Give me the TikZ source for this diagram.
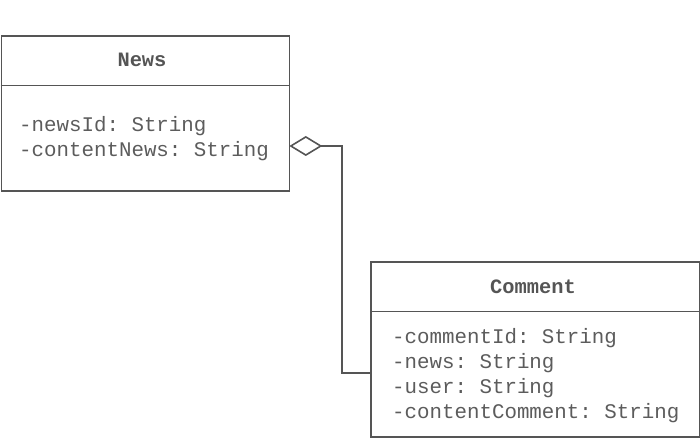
\documentclass[tikz,border=0pt]{standalone}
\usepackage{fontspec}
\setmonofont{Liberation Mono}
\usetikzlibrary{arrows.meta}
\definecolor{ink}{HTML}{555555}
\definecolor{textink}{HTML}{5c5c5c}
\tikzset{
  box/.style={draw=ink, line width=1.6pt, anchor=north west, inner sep=0pt},
  ttl/.style={font=\ttfamily\bfseries\fontsize{20.4}{25}\selectfont, text=ink, inner sep=0pt},
  attr/.style={font=\ttfamily\fontsize{20.8}{25}\selectfont, text=textink, anchor=west, inner sep=0pt, align=left},
  conn/.style={draw=ink, line width=1.6pt}
}
\begin{document}
\begin{tikzpicture}[x=1pt,y=-1pt]
\useasboundingbox (0,0) rectangle (700,438);
% News class
\node[box, minimum width=288pt, minimum height=155pt] (news) at (0.5,35) {};
\draw[conn] (news.west |- 0,85.5) -- (news.east |- 0,85.5);
\node[ttl] (newst) at (142,60) {News};
\node[attr] (newsa) at (19,138.5) {-newsId: String\\-contentNews: String};
% Comment class
\node[box, minimum width=329pt, minimum height=175pt] (comment) at (370,261) {};
\draw[conn] (comment.west |- 0,311.5) -- (comment.east |- 0,311.5);
\node[ttl] (commentt) at (533,287) {Comment};
\node[attr] (commenta) at (392,375.5) {-commentId: String\\-news: String\\-user: String\\-contentComment: String};
% aggregation
\coordinate (bend1) at (342,373);
\coordinate (bend2) at (342,146);
\coordinate (tip) at (289.3,146);
\draw[conn, -{Diamond[open,length=33pt,width=20pt,line width=1.6pt]}]
  (comment.west |- bend1) -- (bend1) -- (bend2) -- (tip);
\end{tikzpicture}
\end{document}
